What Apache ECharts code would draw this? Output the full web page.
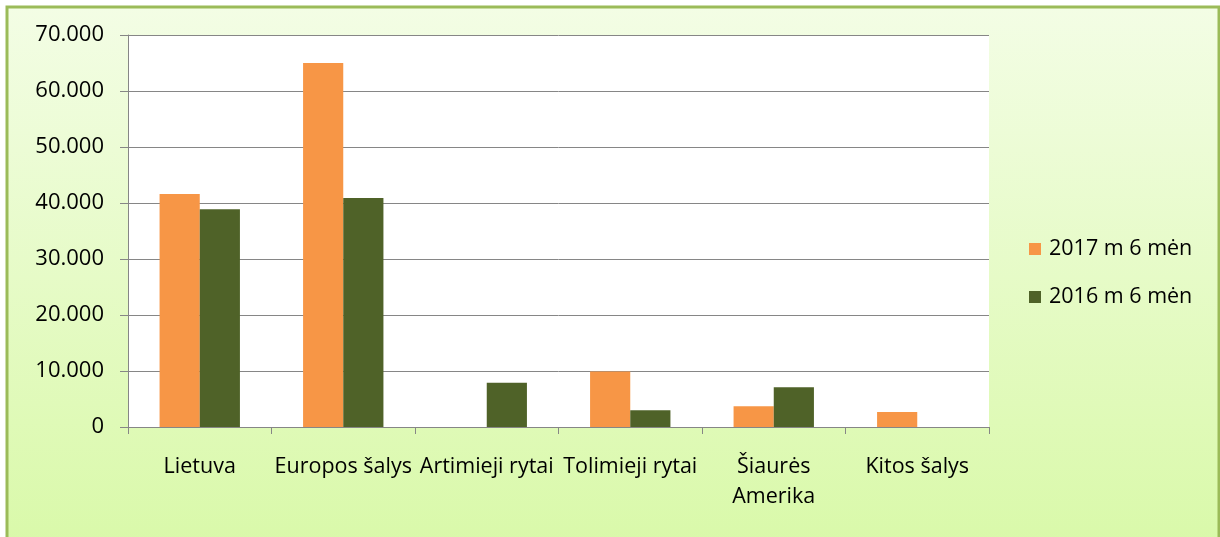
<!DOCTYPE html>
<html>
<head>
<meta charset="utf-8">
<script src="https://cdn.jsdelivr.net/npm/echarts@6/dist/echarts.min.js"></script>
<style>
  html, body { margin: 0; padding: 0; background: #fff; }
  #chart { width: 1220px; height: 537px; }
</style>
</head>
<body>
<div id="chart"></div>
<script>
var categories = ['Lietuva', 'Europos šalys', 'Artimieji rytai', 'Tolimieji rytai', 'Šiaurės\nAmerika', 'Kitos šalys'];
var seriesNames = ['2017 m 6 mėn', '2016 m 6 mėn'];
var values2017 = [41600, 65000, 0, 9900, 3700, 2700];
var values2016 = [38900, 40900, 7900, 3000, 7100, 0];
var yTicks = { min: 0, max: 70000, interval: 10000 };

var myChart = echarts.init(document.getElementById('chart'));

var font = 'Open Sans';

function dotThousands(v) {
    return String(v).replace(/\B(?=(\d{3})+(?!\d))/g, '.');
}

var option = {
    backgroundColor: '#fff',
    animation: false,
    textStyle: { fontFamily: font },
    graphic: [
        {
            type: 'rect',
            z: -10,
            shape: { x: 7, y: 7, width: 1212, height: 540 },
            style: {
                fill: new echarts.graphic.LinearGradient(0, 0, 0, 1, [
                    { offset: 0, color: '#f3fde5' },
                    { offset: 1, color: '#d9f9a9' }
                ]),
                stroke: '#9bbb59',
                lineWidth: 3
            }
        }
    ],
    legend: {
        orient: 'vertical',
        left: 1029,
        top: 235,
        padding: 0,
        itemWidth: 12,
        itemHeight: 12,
        itemGap: 20,
        icon: 'rect',
        data: seriesNames,
        textStyle: { fontFamily: font, fontSize: 21.5, lineHeight: 28, color: '#000', padding: [0, 0, 0, 3] }
    },
    grid: {
        left: 128,
        top: 35,
        right: 231,
        bottom: 110,
        show: true,
        backgroundColor: '#fff',
        borderWidth: 0
    },
    xAxis: {
        type: 'category',
        data: categories,
        axisLine: { lineStyle: { color: '#868686', width: 1 } },
        axisTick: { show: true, length: 7, interval: 0, lineStyle: { color: '#868686' } },
        axisLabel: {
            interval: 0,
            margin: 25,
            fontFamily: font,
            fontSize: 21.5,
            lineHeight: 30,
            color: '#000'
        }
    },
    yAxis: {
        type: 'value',
        min: yTicks.min,
        max: yTicks.max,
        interval: yTicks.interval,
        axisLine: { show: true, lineStyle: { color: '#868686', width: 1 } },
        axisTick: { show: true, length: 8, lineStyle: { color: '#868686' } },
        splitLine: { lineStyle: { color: '#868686', width: 1 } },
        axisLabel: {
            margin: 24,
            fontFamily: font,
            fontSize: 22,
            color: '#000',
            formatter: dotThousands
        }
    },
    series: [
        {
            name: seriesNames[0],
            type: 'bar',
            data: values2017,
            barGap: '0%',
            barCategoryGap: '44%',
            itemStyle: { color: '#f79646' }
        },
        {
            name: seriesNames[1],
            type: 'bar',
            data: values2016,
            barGap: '0%',
            barCategoryGap: '44%',
            itemStyle: { color: '#4f6228' }
        }
    ]
};

myChart.setOption(option);
window.addEventListener('resize', function () {
    myChart.resize();
});
</script>
</body>
</html>
